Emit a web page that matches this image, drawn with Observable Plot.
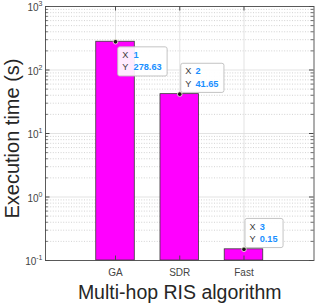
<!DOCTYPE html>
<html><head><meta charset="utf-8">
<script src="https://cdn.jsdelivr.net/npm/d3@7"></script>
<script src="https://cdn.jsdelivr.net/npm/@observablehq/plot@0.6"></script>
<style>
body{margin:0;background:#fff;}
svg{font-family:"Liberation Sans",Arial,Helvetica,sans-serif;background:#fff;}
</style>
</head><body><div id="chart"></div>
<script>
// ---- data ----
const categories = ["GA", "SDR", "Fast"];
const positions = [1, 2, 3];
const times = [278.63, 41.65, 0.15];
const tipValueLabels = ["278.63", "41.65", "0.15"];
const tipAbove = [false, true, true];
const yTickValues = [0.1, 1, 10, 100, 1000];
const yTickExponents = ["-1", "0", "1", "2", "3"];
const xLimits = [-0.09, 4.09];
const yLimits = [0.1, 1000];
const xLabel = "Multi-hop RIS algorithm";
const yLabel = "Execution time (s)";

// ---- layout / style ----
const W = 316, H = 303;
const mL = 45, mR = 2.5, mT = 6, mB = 43;
const pxX = (xLimits[1] - xLimits[0]) / (W - mL - mR);
const decPerPx = Math.log10(yLimits[1] / yLimits[0]) / (H - mT - mB);
const axisColor = "#4a4a4a";
const tickTextColor = "#444";
const labelColor = "#262626";
const blue = "#1a8fff";

const bars = categories.map((c, i) => ({cat: c, x: positions[i], t: times[i], v: tipValueLabels[i], above: tipAbove[i]}));

// minor log ticks (axis structure, 2..9 per decade)
const minorTicks = [];
for (let k = 0; k < yTickValues.length - 1; k++)
  for (let m = 2; m <= 9; m++) minorTicks.push(yTickValues[k] * m);

const majorLen = 4.5, minorLen = 2.8;
const yUp = (v, px) => v * Math.pow(10, px * decPerPx);
const yDown = (v, px) => v / Math.pow(10, px * decPerPx);

function tipMarks(b, i) {
  const below = !b.above;
  const common = {x: "x", y: "t", fontSize: 9.2, textAnchor: "start", lineAnchor: "middle",
                  lineHeight: 1.32, dy: below ? 18.5 : -17.5, ariaDescription: "tip-" + i};
  return [
    Plot.text([b], {...common, text: d => "X\nY", fill: "#3a3a3a", dx: below ? 6.7 : 5.5}),
    Plot.text([b], {...common, text: d => d.x + "\n" + d.v, fill: blue, fontWeight: "bold", dx: below ? 18 : 15.7})
  ];
}

const svg = Plot.plot({
  width: W, height: H,
  marginLeft: mL, marginRight: mR, marginTop: mT, marginBottom: mB,
  x: {domain: xLimits, axis: null},
  y: {type: "log", domain: yLimits, axis: null},
  style: {fontFamily: "Liberation Sans, Arial, sans-serif", background: "#fff"},
  marks: [
    // grids
    Plot.ruleY(minorTicks, {stroke: "#c8c8c8", strokeDasharray: "1,1.6", strokeWidth: 0.8}),
    Plot.ruleY(yTickValues, {stroke: "#dcdcdc", strokeWidth: 0.8}),
    Plot.ruleX(positions, {stroke: "#dcdcdc", strokeWidth: 0.8}),
    // bars
    Plot.rect(bars, {x1: d => d.x - 0.3, x2: d => d.x + 0.3, y1: () => yLimits[0], y2: "t",
                     fill: "#ff00ff", stroke: "#3a3a3a", strokeWidth: 0.8}),
    // box
    Plot.frame({stroke: axisColor, strokeWidth: 0.9}),
    // inward ticks: left / right
    Plot.ruleY(yTickValues, {x1: () => xLimits[0], x2: () => xLimits[0] + majorLen * pxX, stroke: axisColor}),
    Plot.ruleY(yTickValues, {x1: () => xLimits[1] - majorLen * pxX, x2: () => xLimits[1], stroke: axisColor}),
    Plot.ruleY(minorTicks, {x1: () => xLimits[0], x2: () => xLimits[0] + minorLen * pxX, stroke: axisColor, strokeWidth: 0.8}),
    Plot.ruleY(minorTicks, {x1: () => xLimits[1] - minorLen * pxX, x2: () => xLimits[1], stroke: axisColor, strokeWidth: 0.8}),
    // bottom / top ticks
    Plot.ruleX(positions, {y1: () => yLimits[0], y2: () => yUp(yLimits[0], majorLen), stroke: axisColor}),
    Plot.ruleX(positions, {y1: () => yDown(yLimits[1], majorLen), y2: () => yLimits[1], stroke: axisColor}),
    // y tick labels
    Plot.text(yTickValues, {x: () => xLimits[0], y: d => d, text: (d, i) => "10" + yTickExponents[i],
                            textAnchor: "end", dx: -3, dy: 1.5, fontSize: 10, fill: tickTextColor, ariaDescription: "ytick"}),
    // x tick labels
    Plot.text(bars, {x: "x", y: () => yLimits[0], text: "cat", dy: 12, fontSize: 10, fill: tickTextColor, lineAnchor: "middle"}),
    // axis titles
    Plot.text([xLabel], {frameAnchor: "bottom", dy: 32, fontSize: 19.5, fill: labelColor, lineAnchor: "middle"}),
    Plot.text([yLabel], {frameAnchor: "left", dx: -33.2, dy: 5, rotate: -90, fontSize: 20, fill: labelColor,
                         textAnchor: "middle", lineAnchor: "middle"}),
    // data tips
    ...bars.flatMap((b, i) => tipMarks(b, i)),
    Plot.dot(bars, {x: "x", y: "t", r: 2.3, fill: "#1a1a1a", stroke: "#f4f4d8", strokeWidth: 0.8})
  ]
});
document.getElementById("chart").append(svg);

const ns = "http://www.w3.org/2000/svg";
// superscript exponents on y tick labels
svg.querySelectorAll('g[aria-description="ytick"] text').forEach((t, i) => {
  t.textContent = "";
  const base = document.createElementNS(ns, "tspan");
  base.textContent = "10";
  const sup = document.createElementNS(ns, "tspan");
  sup.textContent = yTickExponents[i];
  sup.setAttribute("dy", "-5");
  sup.setAttribute("font-size", "7");
  t.append(base, sup);
});

// data tip boxes behind tip texts
const inv = svg.getScreenCTM().inverse();
bars.forEach((b, i) => {
  const groups = svg.querySelectorAll(`g[aria-description="tip-${i}"]`);
  if (!groups.length) return;
  let x0 = Infinity, y0 = Infinity, x1 = -Infinity, y1 = -Infinity;
  groups.forEach(g => g.querySelectorAll("text").forEach(t => {
    const bb = t.getBBox();
    const m = t.getScreenCTM();
    const q0 = new DOMPoint(bb.x, bb.y).matrixTransform(m).matrixTransform(inv);
    const q1 = new DOMPoint(bb.x + bb.width, bb.y + bb.height).matrixTransform(m).matrixTransform(inv);
    x0 = Math.min(x0, q0.x); y0 = Math.min(y0, q0.y);
    x1 = Math.max(x1, q1.x); y1 = Math.max(y1, q1.y);
  }));
  const r = document.createElementNS(ns, "rect");
  r.setAttribute("x", x0 - 4.5);
  r.setAttribute("y", y0 - 3.2);
  r.setAttribute("width", x1 - x0 + 10);
  r.setAttribute("height", y1 - y0 + 7);
  r.setAttribute("rx", 2);
  r.setAttribute("fill", "#ffffff");
  r.setAttribute("fill-opacity", 0.92);
  r.setAttribute("stroke", "#bdbdbd");
  r.setAttribute("stroke-width", 0.9);
  groups[0].parentNode.insertBefore(r, groups[0]);
});
</script>
</body></html>
